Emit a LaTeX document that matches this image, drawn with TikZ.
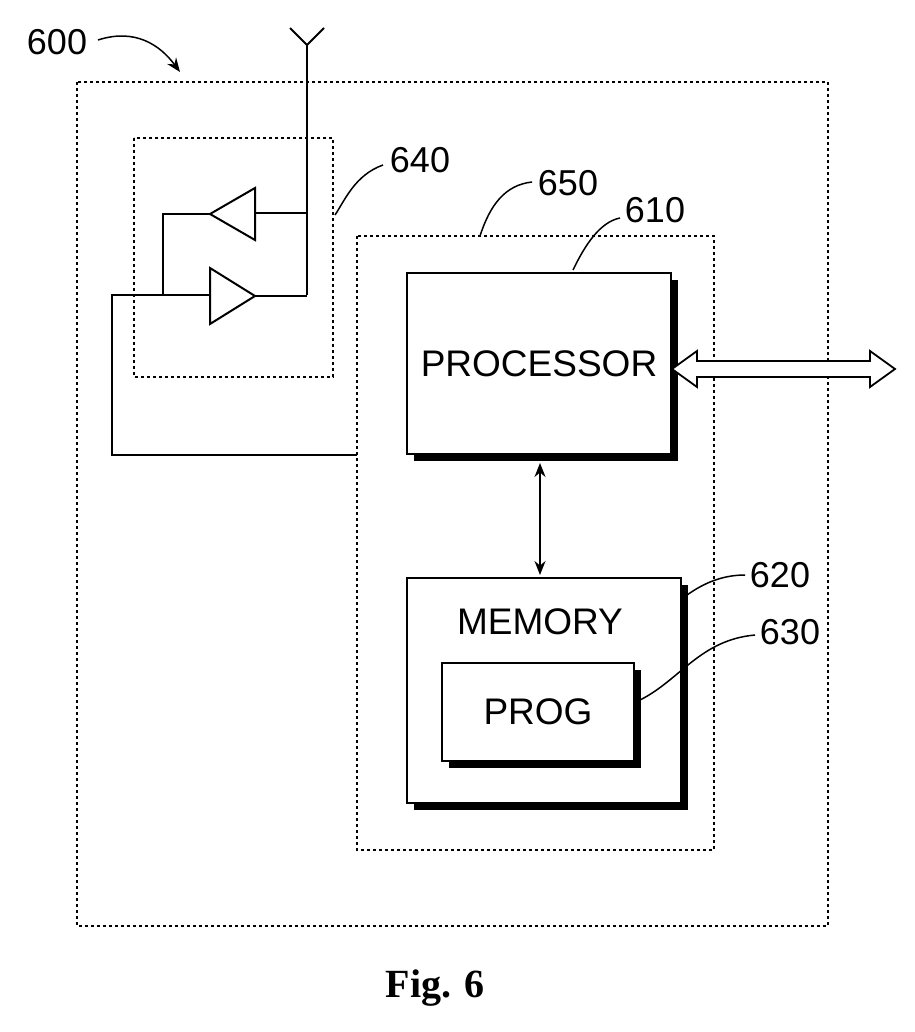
\documentclass[tikz,border=0pt]{standalone}
\usepackage{fontspec}
\setmainfont{Liberation Sans}
\newfontfamily\figfont{Liberation Serif}
\usetikzlibrary{arrows.meta}
\begin{document}
\begin{tikzpicture}[x=1pt,y=-1pt,line width=2pt,
  dot/.style={line width=1.6pt,dash pattern=on 3pt off 3pt},
  box/.style={draw,fill=white,line width=2pt},
  shadow/.style={fill=black},
  lbl/.style={font=\fontsize{36}{36}\selectfont,inner sep=0pt},
  lead/.style={line width=1.5pt}]
\useasboundingbox (0,0) rectangle (914,1032);
% dotted containers
\draw[dot] (77,82) rectangle (828,926);
\draw[dot] (134,138) rectangle (333,377);
\draw[dot] (357,236) rectangle (714,850);
% antenna
\coordinate (ant) at (307,45);
\draw (290,28) -- (ant) -- (324,28);
\draw (ant) -- (307,295);
% triangles
\draw[fill=white] (255,188) -- (255,240) -- (210,214) -- cycle;
\draw[fill=white] (210,268) -- (210,324) -- (255,296) -- cycle;
\draw (307,213) -- (255,213);
\draw (210,214) -- (163,214) -- (163,295);
\draw (255,296) -- (307,296);
\draw (357,455) -- (112,455) -- (112,295) -- (210,295);
% boxes with shadows
\fill[shadow] (414,280) rectangle (678,461);
\node[box,minimum width=264pt,minimum height=181pt,anchor=north west,
  font=\fontsize{37}{37}\selectfont] (proc) at (406,272) {PROCESSOR};
\fill[shadow] (414,585) rectangle (688,810);
\node[box,minimum width=274pt,minimum height=225pt,anchor=north west] (mem) at (406,577) {};
\node[font=\fontsize{37}{37}\selectfont] (memt) at (540,622) {MEMORY};
\fill[shadow] (449,670) rectangle (641,768);
\node[box,minimum width=192pt,minimum height=98pt,anchor=north west,
  font=\fontsize{37}{37}\selectfont] (prog) at (441,662) {PROG};
% processor-memory arrow
\coordinate (pa) at (540,463);
\coordinate (ma) at (540,575);
\draw[{Stealth[length=14pt,width=11pt]}-{Stealth[length=14pt,width=11pt]},line width=1.6pt]
  (pa) -- (ma);
% hollow double arrow
\draw[fill=white,line width=1.8pt] (672,369) -- (697,351) -- (697,361) -- (870,361)
  -- (870,351) -- (895,369) -- (870,387) -- (870,377) -- (697,377) -- (697,387) -- cycle;
% labels
\node[lbl] (l600) at (57,42) {600};
\draw[lead,-{Stealth[length=14pt,width=11pt]}] (98,40) .. controls (135,28) and (160,45) .. (180,72);
\node[lbl] (l640) at (420,160) {640};
\draw[lead] (383,165) .. controls (355,175) and (345,200) .. (335,215);
\node[lbl] (l650) at (568,183) {650};
\draw[lead] (532,182) .. controls (505,185) and (490,205) .. (480,236);
\node[lbl] (l610) at (655,210) {610};
\draw[lead] (620,218) .. controls (600,222) and (585,245) .. (573,270);
\node[lbl] (l620) at (780,575) {620};
\draw[lead] (745,575) .. controls (720,575) and (700,585) .. (683,598);
\node[lbl] (l630) at (790,632) {630};
\draw[lead] (755,635) .. controls (700,640) and (680,680) .. (640,700);
\node[inner sep=0pt,font=\figfont\bfseries\fontsize{40}{40}\selectfont] (fig) at (435,988) {Fig. 6};
\end{tikzpicture}
\end{document}
